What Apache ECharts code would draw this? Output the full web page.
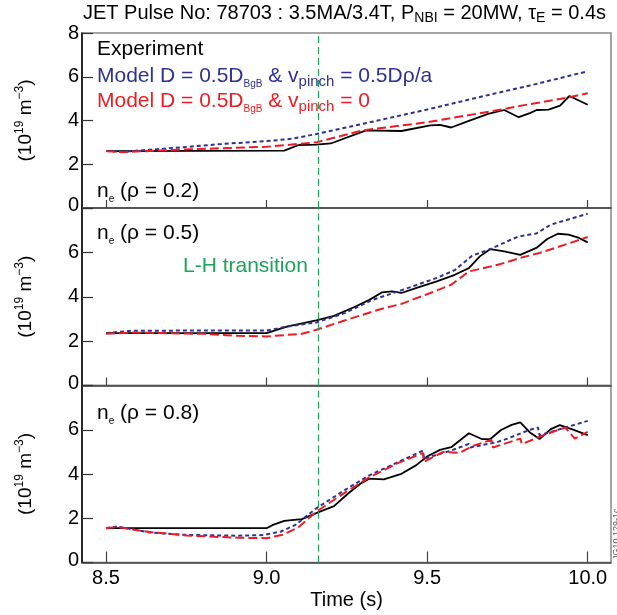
<!DOCTYPE html>
<html>
<head>
<meta charset="utf-8">
<script src="https://cdn.jsdelivr.net/npm/echarts@6/dist/echarts.min.js"></script>
<style>
html,body{margin:0;padding:0;background:#fff;}
#c{width:617px;height:615px;}
</style>
</head>
<body>
<div id="c"></div>
<script>
// ---------- data ----------
const xTicks = [8.5, 9.0, 9.5, 10.0];
const yTicks = [0, 2, 4, 6, 8];
const LH_TIME = 9.158;

// rho = 0.2
const exp02_t = [8.5, 9.055, 9.1, 9.155, 9.2, 9.31, 9.42, 9.51, 9.54, 9.575, 9.63, 9.69, 9.74, 9.785, 9.82, 9.841, 9.878, 9.914, 9.943, 10.0];
const exp02_v = [2.6, 2.62, 2.88, 2.9, 2.95, 3.55, 3.52, 3.78, 3.8, 3.68, 3.98, 4.3, 4.48, 4.15, 4.34, 4.48, 4.5, 4.68, 5.12, 4.72];
const blue02_t = [8.5, 8.55, 8.69, 8.856, 9.02, 9.08, 9.155, 9.3, 9.5, 9.7, 9.82, 10.0];
const blue02_v = [2.6, 2.57, 2.72, 2.92, 3.08, 3.17, 3.38, 3.85, 4.5, 5.2, 5.6, 6.25];
const red02_t = [8.5, 8.55, 8.7, 9.0, 9.155, 9.3, 9.5, 9.73, 9.82, 9.94, 10.0];
const red02_v = [2.6, 2.55, 2.65, 2.8, 3.0, 3.55, 3.92, 4.5, 4.75, 5.05, 5.25];

// rho = 0.5
const exp05_t = [8.5, 9.0, 9.066, 9.155, 9.21, 9.277, 9.32, 9.36, 9.39, 9.42, 9.465, 9.53, 9.586, 9.63, 9.664, 9.697, 9.74, 9.79, 9.84, 9.874, 9.907, 9.94, 9.973, 10.0];
const exp05_v = [2.36, 2.36, 2.66, 2.93, 3.14, 3.56, 3.86, 4.2, 4.24, 4.17, 4.39, 4.69, 4.99, 5.29, 5.82, 6.15, 6.05, 5.89, 6.2, 6.6, 6.84, 6.8, 6.65, 6.45];
const blue05_t = [8.5, 8.58, 9.0, 9.066, 9.155, 9.243, 9.33, 9.42, 9.53, 9.586, 9.64, 9.697, 9.75, 9.785, 9.84, 9.885, 10.0];
const blue05_v = [2.36, 2.47, 2.48, 2.66, 2.84, 3.26, 3.86, 4.29, 4.85, 5.2, 5.85, 6.15, 6.5, 6.72, 6.85, 7.25, 7.74];
const red05_t = [8.5, 8.58, 8.8, 8.91, 9.0, 9.11, 9.155, 9.243, 9.354, 9.42, 9.51, 9.575, 9.63, 9.72, 9.8, 9.85, 10.0];
const red05_v = [2.33, 2.39, 2.33, 2.24, 2.21, 2.33, 2.51, 2.93, 3.44, 3.68, 4.17, 4.54, 5.14, 5.44, 5.79, 5.97, 6.69];

// rho = 0.8
const exp08_t = [8.5, 9.0, 9.02, 9.055, 9.11, 9.166, 9.21, 9.254, 9.293, 9.32, 9.365, 9.42, 9.465, 9.5, 9.54, 9.575, 9.63, 9.67, 9.697, 9.73, 9.763, 9.79, 9.82, 9.85, 9.885, 9.913, 9.95, 10.0];
const exp08_v = [1.55, 1.55, 1.7, 1.88, 1.96, 2.3, 2.55, 3.12, 3.57, 3.79, 3.76, 4.01, 4.39, 4.79, 5.09, 5.21, 5.84, 5.58, 5.58, 5.99, 6.22, 6.33, 5.88, 5.58, 6.03, 6.21, 6.03, 5.76];
const blue08_t = [8.5, 8.535, 8.635, 8.745, 8.91, 8.99, 9.045, 9.09, 9.155, 9.243, 9.32, 9.41, 9.487, 9.49, 9.575, 9.63, 9.635, 9.72, 9.75, 9.82, 9.845, 9.85, 10.0];
const blue08_v = [1.55, 1.63, 1.36, 1.25, 1.21, 1.24, 1.4, 1.7, 2.45, 3.27, 3.94, 4.54, 5.06, 4.69, 5.06, 5.36, 5.2, 5.45, 5.6, 6.0, 6.1, 5.75, 6.4];
const red08_t = [8.5, 8.535, 8.635, 8.75, 8.91, 9.0, 9.05, 9.1, 9.155, 9.243, 9.32, 9.41, 9.487, 9.49, 9.55, 9.6, 9.64, 9.7, 9.705, 9.79, 9.795, 9.87, 9.93, 9.96, 10.0];
const red08_v = [1.55, 1.6, 1.38, 1.22, 1.12, 1.1, 1.25, 1.6, 2.3, 3.15, 3.85, 4.5, 4.95, 4.55, 5.0, 4.95, 5.25, 5.55, 5.2, 5.6, 5.35, 5.8, 6.1, 5.6, 5.9];

const panelLabels = ['0.2', '0.5', '0.8'];

// ---------- styles ----------
const FONT = 'Liberation Sans, Arial, Helvetica, sans-serif';
const BLACK = '#000000';
const BLUE = '#2e3192';
const RED = '#ed1c24';
const GREEN = '#1fa25a';

const zip = (t, v) => t.map((x, i) => [x, v[i]]);

const grids = [
  {left: 82, right: 6, top: 33, height: 175},
  {left: 82, right: 6, top: 208, height: 177.5},
  {left: 82, right: 6, top: 385.5, height: 177}
];

const xAxes = grids.map((g, i) => ({
  type: 'value', gridIndex: i, min: 8.4253, max: 10.0725,
  axisLine: {show: true, onZero: false, lineStyle: {color: '#444', width: 1.5}},
  axisTick: {show: true, inside: true, length: i === 2 ? 11 : 8, customValues: xTicks, lineStyle: {color: '#444', width: 1.2}},
  axisLabel: {show: i === 2, customValues: xTicks, formatter: v => v.toFixed(1), fontSize: 20, fontFamily: FONT, color: BLACK, margin: 6},
  splitLine: {show: false},
  name: i === 2 ? 'Time (s)' : '', nameLocation: 'middle', nameGap: 28,
  nameTextStyle: {fontSize: 20, fontFamily: FONT, color: BLACK, verticalAlign: 'top'}
}));

const yAxes = grids.map((g, i) => ({
  type: 'value', gridIndex: i, min: 0, max: 8, interval: 2,
  axisLine: {show: true, onZero: false, lineStyle: {color: BLACK, width: 1.5}},
  axisTick: {show: true, inside: true, length: 11, lineStyle: {color: '#333', width: 1.2}},
  axisLabel: {
    fontSize: 20, fontFamily: FONT, color: BLACK, margin: 3,
    formatter: v => (v === 8 && i > 0) ? '' : (v === 0 ? '{z|0}' : String(v)),
    rich: {z: {fontSize: 20, fontFamily: FONT, color: BLACK, padding: [0, 0, 5, 0]}}
  },
  splitLine: {show: false},
  name: '(10{sup|19} m{sup|\u22123})', nameLocation: 'middle', nameGap: 44, nameRotate: 90,
  nameTextStyle: {fontSize: 19, fontFamily: FONT, color: BLACK, lineHeight: 24,
    rich: {sup: {fontSize: 12, fontFamily: FONT, color: BLACK, verticalAlign: 'top', lineHeight: 14}}}
}));

const lhLine = {
  silent: true, symbol: ['none', 'none'], label: {show: false},
  lineStyle: {color: GREEN, type: [7, 4], width: 1.2},
  data: [{xAxis: LH_TIME}]
};

function mkSeries(i, t, v, color, type, width, withMark) {
  const s = {
    type: 'line', xAxisIndex: i, yAxisIndex: i, data: zip(t, v),
    symbol: 'none', smooth: false, animation: false,
    lineStyle: {color: color, width: width, type: type}
  };
  if (withMark) s.markLine = lhLine;
  return s;
}

const series = [
  mkSeries(0, exp02_t, exp02_v, BLACK, 'solid', 1.8, true),
  mkSeries(0, blue02_t, blue02_v, BLUE, [4, 3], 2, false),
  mkSeries(0, red02_t, red02_v, RED, [9, 4], 2, false),
  mkSeries(1, exp05_t, exp05_v, BLACK, 'solid', 1.8, true),
  mkSeries(1, blue05_t, blue05_v, BLUE, [4, 3], 2, false),
  mkSeries(1, red05_t, red05_v, RED, [9, 4], 2, false),
  mkSeries(2, exp08_t, exp08_v, BLACK, 'solid', 1.8, true),
  mkSeries(2, blue08_t, blue08_v, BLUE, [4, 3], 2, false),
  mkSeries(2, red08_t, red08_v, RED, [9, 4], 2, false)
];

const baseRich = (color) => ({
  m: {fontSize: 21, fontFamily: FONT, fill: color, lineHeight: 26},
  sub: {fontSize: 10, fontFamily: FONT, fill: color, verticalAlign: 'bottom', lineHeight: 14},
  subb: {fontSize: 15, fontFamily: FONT, fill: color, verticalAlign: 'bottom', lineHeight: 18}
});

const graphics = [
  {type: 'text', left: 83, top: 3, z: 100, style: {
    text: '{m|JET Pulse No: 78703 : 3.5MA/3.4T, P}{s|NBI}{m| = 20MW, \u03c4}{s|E}{m| = 0.4s}',
    rich: {
      m: {fontSize: 20, fontFamily: FONT, fill: BLACK, lineHeight: 24},
      s: {fontSize: 14, fontFamily: FONT, fill: BLACK, verticalAlign: 'bottom', lineHeight: 16}
    }}},
  {type: 'text', left: 97, top: 39, z: 100, style: {
    text: '{m|Experiment}', rich: baseRich(BLACK)}},
  {type: 'text', left: 97, top: 66, z: 100, style: {
    text: '{m|Model D = 0.5D}{sub|BgB}{m| & v}{subb|pinch}{m| = 0.5D\u03c1/a}', rich: baseRich(BLUE)}},
  {type: 'text', left: 97, top: 91, z: 100, style: {
    text: '{m|Model D = 0.5D}{sub|BgB}{m| & v}{subb|pinch}{m| = 0}', rich: baseRich(RED)}},
  {type: 'text', left: 97, top: 181, z: 100, style: {
    text: '{m|n}{sub|e}{m| (\u03c1 = ' + panelLabels[0] + ')}', rich: baseRich(BLACK)}},
  {type: 'text', left: 97, top: 223, z: 100, style: {
    text: '{m|n}{sub|e}{m| (\u03c1 = ' + panelLabels[1] + ')}', rich: baseRich(BLACK)}},
  {type: 'text', left: 97, top: 403, z: 100, style: {
    text: '{m|n}{sub|e}{m| (\u03c1 = ' + panelLabels[2] + ')}', rich: baseRich(BLACK)}},
  {type: 'text', left: 183, top: 256, z: 100, style: {
    text: 'L-H transition', fill: GREEN, font: '21px ' + FONT}},
  {type: 'text', x: 612, y: 560, rotation: Math.PI / 2, z: 100, style: {
    text: 'JG10.129-1c', fill: '#555', font: '9px ' + FONT}}
];

const chart = echarts.init(document.getElementById('c'), null, {renderer: 'canvas'});
chart.setOption({
  animation: false,
  backgroundColor: '#fff',
  grid: grids.map(g => Object.assign({show: true, borderColor: '#888', borderWidth: 1.5, backgroundColor: 'transparent', containLabel: false, outerBoundsMode: 'none'}, g)),
  xAxis: xAxes,
  yAxis: yAxes,
  series: series,
  graphic: graphics
});
</script>
</body>
</html>
